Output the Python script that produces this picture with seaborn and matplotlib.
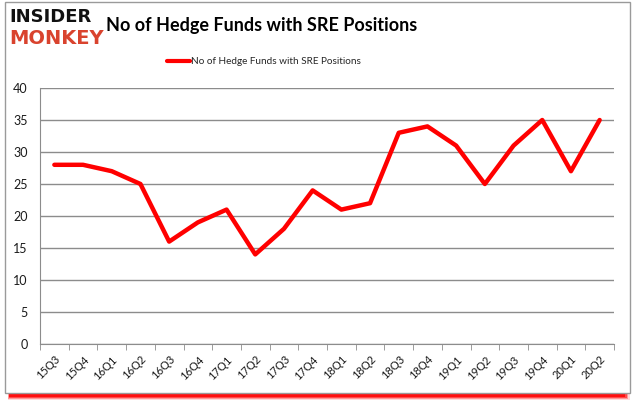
import matplotlib
matplotlib.use("Agg")
import matplotlib.pyplot as plt
from matplotlib.patches import Rectangle
import seaborn as sns

quarters = ["15Q3", "15Q4", "16Q1", "16Q2", "16Q3", "16Q4", "17Q1", "17Q2", "17Q3", "17Q4",
            "18Q1", "18Q2", "18Q3", "18Q4", "19Q1", "19Q2", "19Q3", "19Q4", "20Q1", "20Q2"]
funds = [28, 28, 27, 25, 16, 19, 21, 14, 18, 24, 21, 22, 33, 34, 31, 25, 31, 35, 27, 35]
y_ticks = [0, 5, 10, 15, 20, 25, 30, 35, 40]
series_name = "No of Hedge Funds with SRE Positions"

sns.set_style("white")
plt.rcParams["font.family"] = ["Lato", "DejaVu Sans"]

fig = plt.figure(figsize=(6.35, 4.05), dpi=100)
W, H = 635, 405

# red drop shadow + frame
for i, a in enumerate([0.15, 0.3, 0.5, 0.8]):
    fig.patches.append(Rectangle((8 / W + i * 0.0005, (405 - 400 + i) / H), (622 - 2 * i) / W, 8 / H,
                                 transform=fig.transFigure, facecolor="red", edgecolor="none",
                                 alpha=a, zorder=0))
fig.patches.append(Rectangle((5 / W, (405 - 393) / H), 625 / W, 391 / H, transform=fig.transFigure,
                             facecolor="white", edgecolor="#9a9a9a", linewidth=1, zorder=1))

ax = fig.add_axes([40 / W, 1 - 344 / H, 574 / W, 256 / H])
ax.set_zorder(2)
sns.lineplot(x=quarters, y=funds, ax=ax, color="#ff0000", linewidth=3.2, sort=False,
             label=series_name)

ax.set_xlim(-0.5, len(quarters) - 0.5)
ax.set_ylim(0, 40)
ax.set_yticks(y_ticks)
ax.yaxis.grid(True, color="#8c8c8c", linewidth=1)
ax.set_axisbelow(True)
for s in ["top", "right"]:
    ax.spines[s].set_visible(False)
ax.spines["left"].set_color("#8c8c8c")
ax.spines["bottom"].set_color("#8c8c8c")
ax.tick_params(axis="y", length=0, labelsize=9, labelcolor="#1a1a1a", pad=9)
ax.tick_params(axis="x", labelsize=8, labelcolor="#1a1a1a", pad=7)
ax.set_xticks([i - 0.5 for i in range(len(quarters) + 1)], minor=True)
ax.tick_params(axis="x", which="minor", length=4, color="#8c8c8c", bottom=True, direction="out")
ax.tick_params(axis="x", which="major", length=0)
plt.setp(ax.get_xticklabels(), rotation=45, ha="right", rotation_mode="anchor")
ax.set_xlabel("")
ax.set_ylabel("")

leg = ax.legend(loc="center", bbox_to_anchor=(0.39, 1.0 + 26 / 256), frameon=False, fontsize=7.2,
                handlelength=2.3, handletextpad=0.1)
for line in leg.get_lines():
    line.set_linewidth(3)

fig.text(106 / W, 1 - 26 / H, "No of Hedge Funds with SRE Positions", fontsize=13,
         fontweight="bold", va="center", ha="left", color="black", zorder=3)
fig.text(9 / W, 1 - 17 / H, "INSIDER", fontsize=13, fontweight="heavy", va="center",
         ha="left", color="#111111", zorder=3, family="DejaVu Sans")
fig.text(9 / W, 1 - 39 / H, "MONKEY", fontsize=14, fontweight="heavy", va="center",
         ha="left", color="#d9432e", zorder=3, family="DejaVu Sans")

fig.savefig("out.png", dpi=100)
